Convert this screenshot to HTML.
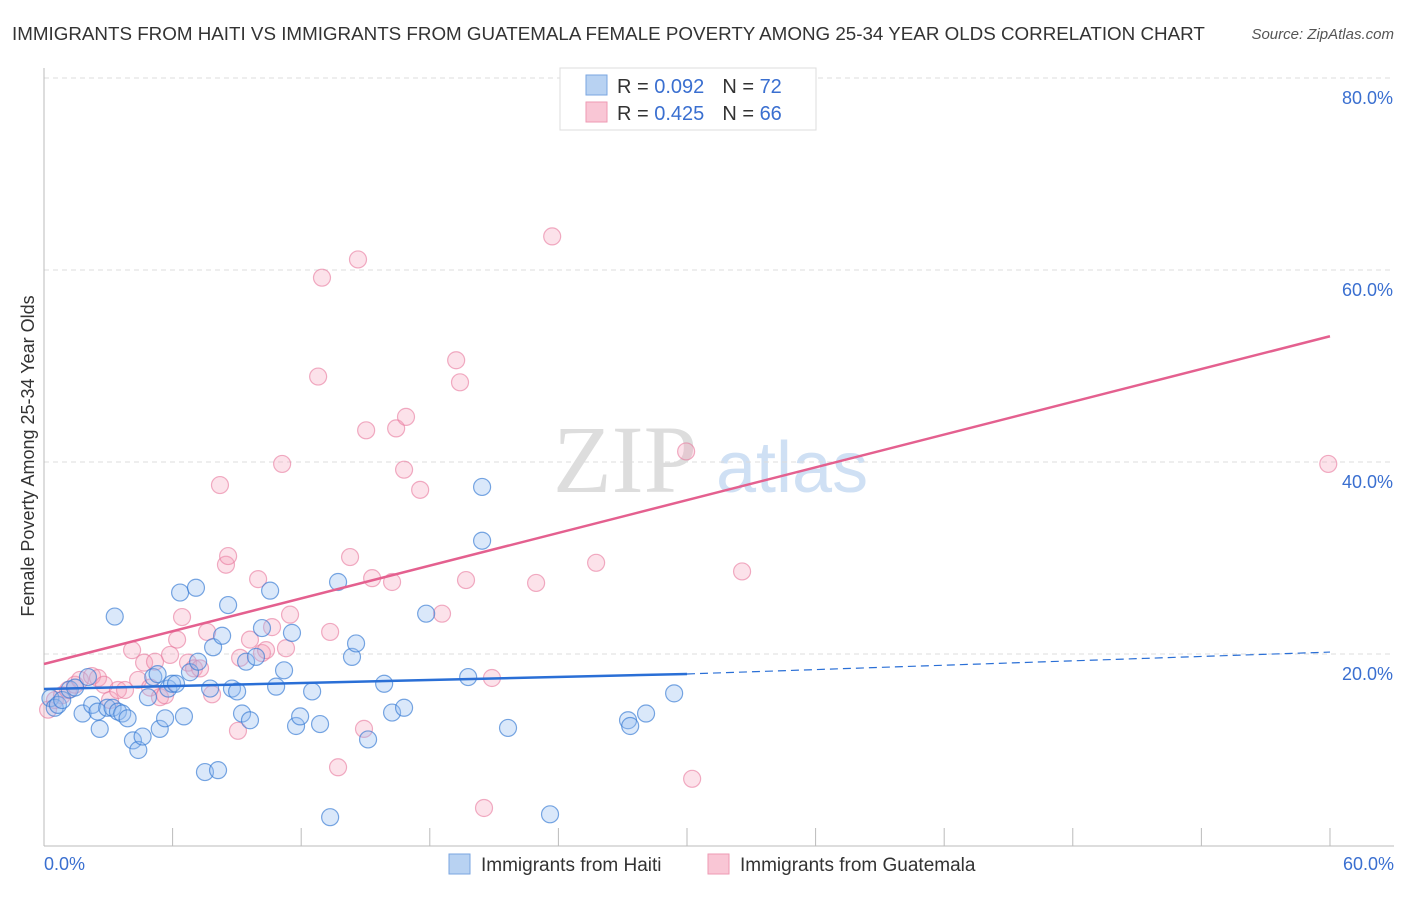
<!DOCTYPE html>
<html><head><meta charset="utf-8">
<style>
body{margin:0;background:#fff;font-family:"Liberation Sans",sans-serif;}
svg text{font-family:"Liberation Sans",sans-serif;}
</style></head>
<body>
<svg id="chart" width="1406" height="892" xmlns="http://www.w3.org/2000/svg">
<text x="12" y="40" font-size="18.8" fill="#333">IMMIGRANTS FROM HAITI VS IMMIGRANTS FROM GUATEMALA FEMALE POVERTY AMONG 25-34 YEAR OLDS CORRELATION CHART</text>
<text x="1394" y="39" font-size="15" fill="#555" font-style="italic" text-anchor="end">Source: ZipAtlas.com</text>
<text x="553" y="492" font-size="96" fill="#ddd" style="font-family:'Liberation Serif',serif">ZIP</text>
<text x="716" y="492" font-size="72" fill="#cfe0f4">atlas</text>
<g id="grid"></g>
<g id="axes"></g>
<g id="marks"></g>
<text transform="translate(34,456) rotate(-90)" font-size="18" fill="#333" text-anchor="middle">Female Poverty Among 25-34 Year Olds</text>
<text x="44" y="870" font-size="18" fill="#3a6fd0">0.0%</text>
<text x="1394" y="870" font-size="18" fill="#3a6fd0" text-anchor="end">60.0%</text>
<g>
<rect x="560" y="68" width="256" height="62" fill="#fff" stroke="#ddd"/>
<rect x="586" y="75" width="21" height="20" fill="#b8d2f2" stroke="#7aa6e0"/>
<rect x="586" y="102" width="21" height="20" fill="#f9c6d5" stroke="#ee9ab3"/>
<text x="617" y="93" font-size="20" fill="#333">R = <tspan fill="#3a6fd0">0.092</tspan><tspan dx="18">N = </tspan><tspan fill="#3a6fd0">72</tspan></text>
<text x="617" y="120" font-size="20" fill="#333">R = <tspan fill="#3a6fd0">0.425</tspan><tspan dx="18">N = </tspan><tspan fill="#3a6fd0">66</tspan></text>
</g>
<g>
<rect x="449" y="854" width="21" height="20" fill="#b8d2f2" stroke="#7aa6e0"/>
<text x="481" y="871" font-size="19" fill="#333">Immigrants from Haiti</text>
<rect x="708" y="854" width="21" height="20" fill="#f9c6d5" stroke="#ee9ab3"/>
<text x="740" y="871" font-size="19" fill="#333">Immigrants from Guatemala</text>
</g>
</svg>
<script>
const yTicks=[20,40,60,80];
const yTickLabels=["20.0%","40.0%","60.0%","80.0%"];
const xTickVals=[0,6,12,18,24,30,36,42,48,54,60];
const haitiX=[0.3,0.5,0.65,0.85,1.2,1.45,1.8,2.05,2.25,2.5,2.6,2.95,3.2,3.3,3.45,3.65,3.9,4.15,4.4,4.6,4.85,5.1,5.3,5.4,5.65,5.8,5.975,6.16,6.35,6.53,6.81,7.09,7.19,7.51,7.75,7.89,8.12,8.31,8.59,8.77,9.01,9.24,9.43,9.61,9.89,10.17,10.55,10.83,11.2,11.57,11.76,11.95,12.51,12.88,13.35,13.72,14.37,14.56,15.12,15.87,16.24,16.8,17.83,19.79,20.44,20.44,21.65,23.61,27.25,27.35,28.09,29.4];
const haitiY=[15.4,14.4,14.7,15.2,16.3,16.5,13.8,17.6,14.7,14.0,12.2,14.4,14.4,23.9,14.0,13.8,13.3,11.0,10.0,11.4,15.5,17.6,17.9,12.2,13.3,16.4,16.9,16.9,26.4,13.5,18.1,26.9,19.2,7.7,16.4,20.7,7.9,21.9,25.1,16.4,16.1,13.8,19.2,13.1,19.7,22.7,26.6,16.6,18.3,22.2,12.5,13.5,16.1,12.7,3.0,27.5,19.7,21.1,11.1,16.9,13.9,14.4,24.2,17.6,37.4,31.8,12.3,3.3,13.1,12.5,13.8,15.9];
const guatX=[0.19,0.51,0.84,1.12,1.45,1.68,2.24,2.52,2.8,3.08,3.45,3.78,4.11,4.39,4.67,4.95,5.18,5.41,5.65,5.88,6.21,6.44,6.72,7.0,7.28,7.61,7.84,8.21,8.49,8.59,9.05,9.15,9.61,9.99,10.17,10.36,10.64,11.11,11.29,11.48,12.97,12.79,13.35,13.72,14.28,14.65,14.93,15.03,15.31,16.24,16.43,16.8,16.89,17.55,18.57,19.23,19.41,19.69,20.53,20.9,22.96,23.71,25.76,29.96,30.24,32.57,59.92];
const guatY=[14.2,15.2,15.7,16.25,16.8,17.3,17.7,17.5,16.8,15.2,16.25,16.25,20.4,17.3,19.1,16.5,19.2,15.5,15.7,19.9,21.5,23.85,19.1,18.5,18.5,22.3,15.8,37.6,29.3,30.2,12.0,19.6,21.5,27.8,20.1,20.4,22.8,39.8,20.6,24.1,59.2,48.9,22.3,8.2,30.1,61.1,12.2,43.3,27.9,27.5,43.5,39.2,44.7,37.1,24.2,50.6,48.3,27.7,3.96,17.5,27.4,63.5,29.5,41.1,7.0,28.6,39.8];
const blueTrend=[[0,16.35],[30,17.92],[60,20.2]];
const pinkTrend=[[0,18.96],[60,53.1]];
const NS="http://www.w3.org/2000/svg";
const xs=v=>44+v*21.433, ys=v=>846-v*9.6;
function mk(tag,attrs,parent){const e=document.createElementNS(NS,tag);for(const k in attrs)e.setAttribute(k,attrs[k]);parent.appendChild(e);return e;}
const gridG=document.getElementById('grid'),axesG=document.getElementById('axes'),marksG=document.getElementById('marks');
yTicks.forEach((t,i)=>{
 const l=mk('line',{x1:44,x2:1394,y1:ys(t),y2:ys(t),stroke:'#ddd','stroke-dasharray':'5,4'},gridG);
 
 
 const tx=mk('text',{x:1393,y:ys(t)+26,'font-size':18,fill:'#3a6fd0','text-anchor':'end'},gridG);
 tx.textContent=yTickLabels[i];
 
 
});
const topGrid=mk('line',{x1:44,x2:1394,y1:78,y2:78,stroke:'#ddd','stroke-dasharray':'5,4'},gridG);


const ya=mk('line',{x1:44,x2:44,y1:68,y2:846,stroke:'#bbb'},axesG);


const xa=mk('line',{x1:44,x2:1394,y1:846,y2:846,stroke:'#bbb'},axesG);


xTickVals.forEach(v=>{
 const t=mk('line',{x1:xs(v),x2:xs(v),y1:828,y2:846,stroke:'#bbb'},axesG);
 
 
});
guatX.forEach((v,i)=>{
 const c=mk('circle',{cx:xs(v),cy:ys(guatY[i]),r:8.5,fill:'rgba(244,160,186,0.3)',stroke:'rgba(232,120,156,0.6)','stroke-width':1.2},marksG);
 
 
});
haitiX.forEach((v,i)=>{
 const c=mk('circle',{cx:xs(v),cy:ys(haitiY[i]),r:8.5,fill:'rgba(150,190,240,0.35)',stroke:'rgba(50,120,210,0.65)','stroke-width':1.2},marksG);
 
 
});
const b1=mk('line',{x1:xs(blueTrend[0][0]),y1:ys(blueTrend[0][1]),x2:xs(blueTrend[1][0]),y2:ys(blueTrend[1][1]),stroke:'#2a6fd6','stroke-width':2.5},marksG);


const b2=mk('line',{x1:xs(blueTrend[1][0]),y1:ys(blueTrend[1][1]),x2:xs(blueTrend[2][0]),y2:ys(blueTrend[2][1]),stroke:'#2a6fd6','stroke-width':1.2,'stroke-dasharray':'8,5'},marksG);


const p1=mk('line',{x1:xs(pinkTrend[0][0]),y1:ys(pinkTrend[0][1]),x2:xs(pinkTrend[1][0]),y2:ys(pinkTrend[1][1]),stroke:'#e4608f','stroke-width':2.5},marksG);


</script>
</body></html>
